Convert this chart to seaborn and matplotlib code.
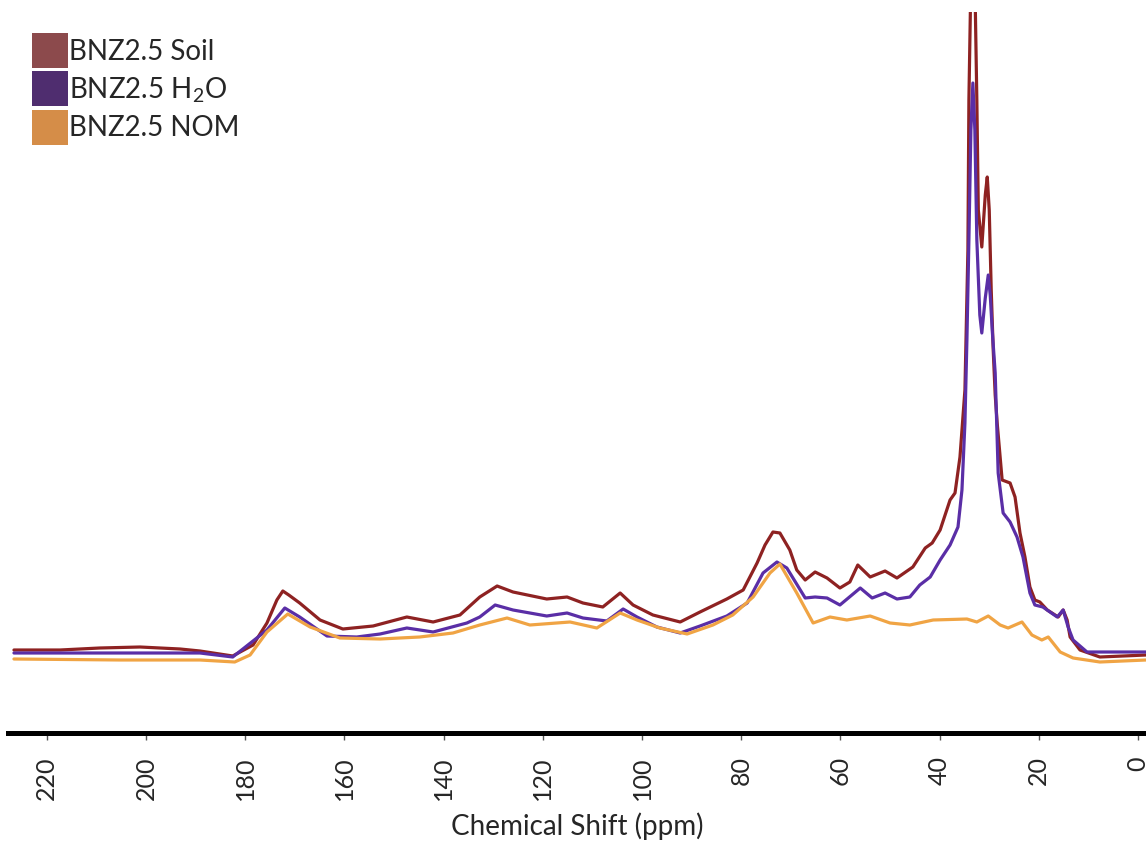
import numpy as np
import pandas as pd
import matplotlib
matplotlib.use("Agg")
import matplotlib.pyplot as plt
from matplotlib.patches import Patch
import seaborn as sns

# ---- data ----
soil_ppm = [226.6, 217.3, 209.3, 201.2, 193.1, 189.1, 182.5, 178.4, 175.6, 173.6,
            172.4, 171.2, 169.0, 164.9, 160.3, 154.2, 147.4, 142.1, 136.7, 132.7,
            129.2, 126.0, 119.2, 115.1, 111.9, 107.9, 104.4, 101.8, 97.8, 92.3,
            88.3, 82.9, 79.6, 76.8, 75.2, 73.6, 72.2, 70.2, 68.8, 67.1,
            65.1, 62.7, 60.1, 58.1, 56.5, 54.0, 51.0, 48.6, 45.4, 42.9,
            41.5, 39.9, 37.9, 36.9, 35.9, 34.9, 34.3, 34.1, 33.3, 32.5,
            32.2, 31.5, 30.8, 30.4, 30.0, 29.6, 29.2, 28.8, 28.4, 27.4,
            25.8, 24.8, 23.8, 22.8, 21.8, 20.8, 19.8, 18.3, 16.1, 15.1,
            14.3, 13.7, 11.7, 7.7, -1.6]
soil_int = [10, 10, 12, 13, 11, 9, 4, 15, 37, 60,
            69, 65, 57, 40, 31, 34, 43, 38, 45, 63,
            74, 68, 61, 63, 57, 53, 67, 55, 45, 38,
            48, 61, 70, 97, 115, 128, 127, 110, 90, 80,
            88, 82, 72, 78, 95, 83, 89, 82, 93, 112,
            117, 130, 160, 167, 203, 270, 410, 560, 800, 560,
            450, 413, 465, 483, 450, 370, 310, 265, 237, 180,
            177, 163, 127, 103, 73, 60, 58, 50, 43, 50,
            40, 23, 10, 3, 5]

h2o_ppm = [226.6, 209.3, 189.1, 182.5, 175.6, 172.0, 169.0, 163.5, 157.5, 152.8,
           147.4, 142.1, 135.3, 132.7, 129.6, 126.0, 119.2, 115.1, 111.9, 107.1,
           103.8, 101.0, 97.0, 92.3, 88.3, 82.9, 78.8, 75.6, 72.8, 70.8,
           67.1, 65.1, 62.7, 60.1, 56.0, 53.6, 51.0, 48.6, 46.0, 44.0,
           41.9, 39.9, 37.9, 36.3, 35.5, 34.9, 34.5, 34.1, 33.7, 33.3,
           32.9, 32.5, 31.9, 31.5, 30.8, 30.2, 29.8, 29.4, 28.8, 28.2,
           27.2, 25.8, 24.4, 23.2, 21.8, 20.8, 19.2, 16.3, 15.1, 14.1,
           13.1, 10.3, -1.6]
h2o_int = [7, 7, 7, 3, 30, 52, 43, 24, 23, 26,
           32, 28, 37, 43, 55, 50, 44, 47, 42, 39,
           51, 43, 33, 27, 34, 44, 57, 87, 98, 92,
           62, 63, 62, 55, 72, 62, 67, 61, 63, 75,
           83, 100, 115, 133, 170, 237, 320, 420, 530, 577,
           530, 420, 345, 327, 362, 385, 365, 330, 287, 187,
           147, 138, 123, 103, 67, 55, 53, 43, 50, 33,
           20, 8, 8]

nom_ppm = [226.6, 205.2, 189.1, 182.1, 179.0, 175.6, 171.4, 166.9, 160.9, 152.8,
           144.8, 138.1, 132.7, 127.2, 122.6, 114.5, 109.1, 104.4, 101.0, 96.4,
           90.9, 85.7, 81.7, 77.6, 74.2, 72.2, 68.8, 65.5, 62.1, 58.7,
           54.0, 50.0, 46.0, 41.3, 34.5, 32.5, 30.2, 27.8, 26.2, 23.4,
           21.4, 19.4, 18.1, 15.7, 13.1, 7.7, -1.6]
nom_int = [1, 0, 0, -2, 5, 28, 46, 33, 22, 21,
           23, 27, 35, 42, 35, 38, 32, 47, 40, 32,
           26, 35, 45, 63, 87, 96, 67, 37, 43, 40,
           44, 37, 35, 40, 41, 38, 44, 35, 32, 38,
           25, 20, 23, 8, 2, -2, 0]

samples = ["BNZ2.5 Soil", "BNZ2.5 H$_\\mathregular{2}$O", "BNZ2.5 NOM"]
line_colors = ["#8E2222", "#5A2EA6", "#F0A444"]
legend_colors = ["#8C4A4C", "#4F2D6F", "#D58D48"]
xticks = [0, 20, 40, 60, 80, 100, 120, 140, 160, 180, 200, 220]

df = pd.concat([
    pd.DataFrame({"ppm": soil_ppm, "intensity": soil_int, "sample": samples[0]}),
    pd.DataFrame({"ppm": h2o_ppm, "intensity": h2o_int, "sample": samples[1]}),
    pd.DataFrame({"ppm": nom_ppm, "intensity": nom_int, "sample": samples[2]}),
], ignore_index=True)

# ---- style ----
sns.set_theme(style="white")
plt.rcParams["font.family"] = ["Lato", "DejaVu Sans"]
plt.rcParams["mathtext.fontset"] = "custom"
plt.rcParams["mathtext.rm"] = "Lato"

fig = plt.figure(figsize=(11.46, 8.41), dpi=100)
ax = fig.add_axes([8 / 1146, 108.5 / 841, 1138 / 1146, 720.5 / 841])

sns.lineplot(data=df, x="ppm", y="intensity", hue="sample", hue_order=samples,
             palette=dict(zip(samples, line_colors)), estimator=None,
             linewidth=2.3, ax=ax, legend=False)

ax.set_xlim(227.8, -1.6)
ax.set_ylim(-72.5, 648)
ax.set_xticks(xticks)
ax.set_xticklabels([str(t) for t in xticks])
ax.set_yticks([])
ax.set_ylabel("")
ax.set_xlabel("Chemical Shift (ppm)", fontsize=20, labelpad=9)

for s in ["top", "left", "right"]:
    ax.spines[s].set_visible(False)
ax.spines["bottom"].set_linewidth(3.6)
ax.spines["bottom"].set_color("black")
ax.tick_params(axis="x", direction="out", length=5, width=1, color="#555555",
               pad=12, labelsize=18, labelrotation=90, bottom=True)

handles = [Patch(facecolor=c, edgecolor="none") for c in legend_colors]
fig.legend(handles, samples, loc="upper left",
           bbox_to_anchor=(32 / 1146, 1 - 33 / 841), bbox_transform=fig.transFigure,
           frameon=False, fontsize=20, borderpad=0, borderaxespad=0,
           handlelength=1.3, handleheight=1.56, handletextpad=0.02,
           labelspacing=0.12)

fig.savefig("out.png", dpi=100)
